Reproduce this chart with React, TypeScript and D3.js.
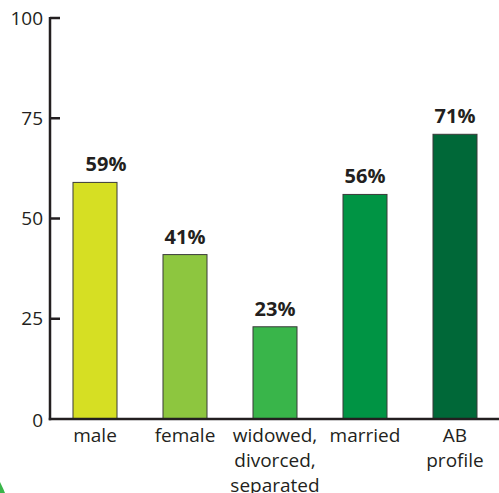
import React from 'react';
import { scaleLinear, scaleBand } from 'd3';

const categories = ['male', 'female', 'widowed,\ndivorced,\nseparated', 'married', 'AB\nprofile'];
const values = [59, 41, 23, 56, 71];
const barColors = ['#d6df23', '#8dc63f', '#39b54a', '#009444', '#006838'];
const yTicks = [0, 25, 50, 75, 100];

const width = 499;
const height = 493;
const ink = '#231f20';
const font = '"Open Sans", "Noto Sans", sans-serif';

const App: React.FC = () => {
  const x = scaleBand<string>().domain(categories).range([50, 500]).paddingInner(0.511).paddingOuter(0.2555);
  const y = scaleLinear([0, 100], [419, 18]);

  return (
    <svg width={width} height={height} style={{ position: 'absolute', left: 0, top: 0 }} fontFamily={font}>
      {categories.map((c, i) => (
        <rect
          key={c}
          x={x(c)}
          y={y(values[i])}
          width={x.bandwidth()}
          height={y(0) - y(values[i])}
          fill={barColors[i]}
          stroke="#3a3a3a"
          strokeWidth={1}
        />
      ))}

      {/* axes */}
      <line x1={50} x2={50} y1={y(100) - 1} y2={y(0) + 1.25} stroke={ink} strokeWidth={2.5} />
      <line x1={48.75} x2={width} y1={y(0)} y2={y(0)} stroke={ink} strokeWidth={2.5} />
      {yTicks.map(t => (
        <g key={t}>
          {t > 0 && <line x1={50} x2={60} y1={y(t)} y2={y(t)} stroke={ink} strokeWidth={2.5} />}
          <text x={43} y={y(t) + (t === 0 ? 8 : 6.5)} textAnchor="end" fontSize={19} fill={ink}>
            {t}
          </text>
        </g>
      ))}

      {/* value labels */}
      {categories.map((c, i) => (
        <text
          key={c}
          x={(x(c) ?? 0) + x.bandwidth() / 2 + (i === 0 ? 11 : 0)}
          y={y(values[i]) - 11}
          textAnchor="middle"
          fontSize={20}
          fontWeight={700}
          fill={ink}
        >
          {values[i]}%
        </text>
      ))}

      {/* category labels */}
      {categories.map(c => (
        <text key={c} textAnchor="middle" fontSize={19} fill={ink}>
          {c.split('\n').map((ln, j) => (
            <tspan key={j} x={(x(c) ?? 0) + x.bandwidth() / 2} y={442 + j * 25}>
              {ln}
            </tspan>
          ))}
        </text>
      ))}

      {/* stray green edge at the bottom-left corner */}
      <path d="M0,482 Q3,488 5,493 L0,493 Z" fill="#39b54a" />
    </svg>
  );
};

export default App;
